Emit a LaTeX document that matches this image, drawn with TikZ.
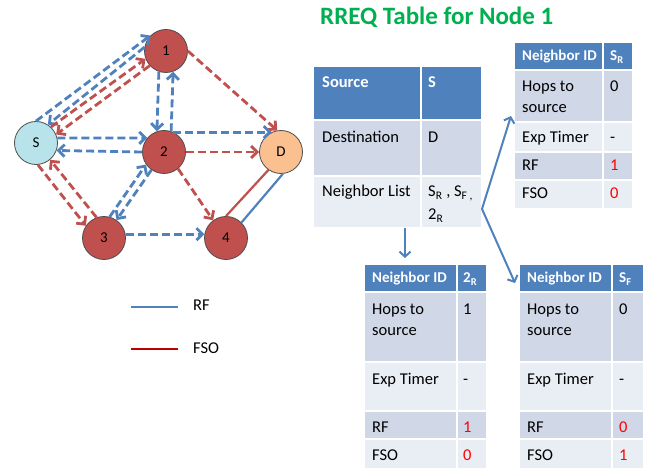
\documentclass[tikz,border=0pt]{standalone}
\usepackage{fontspec}
\setmainfont{Carlito}
\usetikzlibrary{arrows.meta}

\definecolor{rfblue}{HTML}{4F81BD}
\definecolor{fsored}{HTML}{C0504D}
\definecolor{legred}{HTML}{C00000}
\definecolor{rowdark}{HTML}{D0D8E8}
\definecolor{rowlight}{HTML}{E9EDF4}
\definecolor{titlegreen}{HTML}{00B050}
\definecolor{srcfill}{HTML}{B9E3EA}
\definecolor{dstfill}{HTML}{FAC090}
\definecolor{valred}{HTML}{FF0000}

\tikzset{
  hop/.style={circle, draw=black!70, line width=0.8pt, fill=fsored, minimum size=43pt, inner sep=0pt, font=\fontsize{15}{15}\selectfont},
  rfedge/.style={rfblue, line width=2.8pt, dash pattern=on 8pt off 4pt, -{Straight Barb[length=6pt,width=12pt]}},
  fsoedge/.style={fsored, line width=2.8pt, dash pattern=on 8pt off 4pt, -{Straight Barb[length=6pt,width=12pt]}},
  link/.style={line width=2.2pt},
  cellline/.style={white, line width=1.5pt},
  txt/.style={anchor=base west, inner sep=0pt, font=\fontsize{16.5}{21}\selectfont},
  hdr/.style={txt, text=white, font=\bfseries\fontsize{15}{18}\selectfont},
  val/.style={txt, text=valred},
  ptr/.style={rfblue, line width=2pt, -{Straight Barb[length=5pt,width=11pt]}}
}

\begin{document}
\begin{tikzpicture}[x=1pt, y=-1pt]
\useasboundingbox (0,0) rectangle (645,470);

% nodes of the network
\node[hop] (n1) at (166,51) {1};
\node[hop, fill=srcfill] (S) at (36,143) {S};
\node[hop] (n2) at (164,152) {2};
\node[hop, fill=dstfill] (D) at (281,152) {D};
\node[hop] (n3) at (104,238) {3};
\node[hop] (n4) at (226,238) {4};

% RREQ flooding
\draw[rfedge] (S.90) -- (n1.135);
\draw[rfedge] (n1.170) -- (S.57);
\draw[fsoedge] (S.47) -- (n1.201);
\draw[fsoedge] (n1.222) -- (S.23);
\draw[rfedge] (n1.251) -- (n2.109);
\draw[rfedge] (n2.71) -- (n1.289);
\draw[fsoedge] (n1.0) -- (D.100);
\draw[rfedge] (S.13) -- (n2.140);
\draw[rfedge] (n2.180) -- (S.-20);
\draw[rfedge] (n2.65) -- (D.115);
\draw[fsoedge] (n2.0) -- (D.180);
\draw[fsoedge] (n2.-50) -- (n4.126);
\draw[fsoedge] (S.-85) -- (n3.146);
\draw[fsoedge] (n3.110) -- (S.-50);
\draw[rfedge] (n3.75) -- (n2.215);
\draw[rfedge] (n2.235) -- (n3.55);
\draw[rfedge] (n3.10) -- (n4.170);
\draw[link, fsored] (n4.90) -- (D.235);
\draw[link, rfblue] (n4.45) -- (D.275);

% legend
\coordinate (rfa) at (131,307);
\coordinate (rfb) at (178,307);
\coordinate (fsoa) at (131,349);
\coordinate (fsob) at (178,349);
\draw[link, rfblue] (rfa) -- (rfb);
\draw[link, legred] (fsoa) -- (fsob);
\node[txt] (rflab) at (193,310) {RF};
\node[txt] (fsolab) at (193,353) {FSO};

% title
\node[anchor=base west, inner sep=0pt, text=titlegreen, font=\bfseries\fontsize{25}{30}\selectfont] (title) at (320,25) {RREQ Table for Node 1};

% main table
\fill[rfblue] (314,67) rectangle (481,120);
\fill[rowdark] (314,120) rectangle (481,176);
\fill[rowlight] (314,176) rectangle (481,227);
\draw[cellline] (421,67) -- (421,227);
\draw[cellline] (314,120) -- (481,120);
\draw[cellline] (314,176) -- (481,176);
\node[hdr, font=\bfseries\fontsize{16.5}{20}\selectfont] (srcl) at (322,88) {Source};
\node[hdr, font=\bfseries\fontsize{16.5}{20}\selectfont] (srcv) at (428,88) {S};
\node[txt] (dstl) at (322,143) {Destination};
\node[txt] (dstv) at (428,143) {D};
\node[txt] (nbrl) at (322,197) {Neighbor List};
\node[txt] (nbrv) at (428,197) {S\textsubscript{R} , S\textsubscript{F ,}};
\node[txt] (nbrv2) at (428,220) {2\textsubscript{R}};

% neighbor table S_R
\fill[rfblue] (515,43) rectangle (632,70);
\fill[rowdark] (515,70) rectangle (632,122);
\fill[rowlight] (515,122) rectangle (632,152);
\fill[rowdark] (515,152) rectangle (632,180);
\fill[rowlight] (515,180) rectangle (632,208);
\draw[cellline] (603,43) -- (603,208);
\foreach \y in {70,122,152,180} \draw[cellline] (515,\y) -- (632,\y);
\node[hdr] (srh) at (522,61) {Neighbor ID};
\node[hdr] (srhv) at (610,61) {S\textsubscript{R}};
\node[txt] (srhops) at (522,92) {Hops to};
\node[txt] (srsrc) at (522,113) {source};
\node[txt] (srhopsv) at (610,92) {0};
\node[txt] (srexp) at (522,143) {Exp Timer};
\node[txt] (srexpv) at (610,143) {-};
\node[txt] (srrf) at (522,171) {RF};
\node[val] (srrfv) at (610,171) {1};
\node[txt] (srfso) at (522,199) {FSO};
\node[val] (srfsov) at (610,199) {0};

% neighbor table 2_R
\fill[rfblue] (365,265) rectangle (486,292);
\fill[rowdark] (365,292) rectangle (486,362);
\fill[rowlight] (365,362) rectangle (486,411);
\fill[rowdark] (365,411) rectangle (486,439);
\fill[rowlight] (365,439) rectangle (486,468);
\draw[cellline] (457,265) -- (457,468);
\foreach \y in {292,362,411,439} \draw[cellline] (365,\y) -- (486,\y);
\node[hdr] (trh) at (372,283) {Neighbor ID};
\node[hdr] (trhv) at (463,283) {2\textsubscript{R}};
\node[txt] (trhops) at (372,314) {Hops to};
\node[txt] (trsrc) at (372,335) {source};
\node[txt] (trhopsv) at (463,314) {1};
\node[txt] (trexp) at (372,384) {Exp Timer};
\node[txt] (trexpv) at (463,384) {-};
\node[txt] (trrf) at (372,432) {RF};
\node[val] (trrfv) at (463,432) {1};
\node[txt] (trfso) at (372,460) {FSO};
\node[val] (trfsov) at (463,460) {0};

% neighbor table S_F
\fill[rfblue] (520,265) rectangle (643,292);
\fill[rowdark] (520,292) rectangle (643,362);
\fill[rowlight] (520,362) rectangle (643,411);
\fill[rowdark] (520,411) rectangle (643,439);
\fill[rowlight] (520,439) rectangle (643,468);
\draw[cellline] (612,265) -- (612,468);
\foreach \y in {292,362,411,439} \draw[cellline] (520,\y) -- (643,\y);
\node[hdr] (sfh) at (527,283) {Neighbor ID};
\node[hdr] (sfhv) at (619,283) {S\textsubscript{F}};
\node[txt] (sfhops) at (527,314) {Hops to};
\node[txt] (sfsrc) at (527,335) {source};
\node[txt] (sfhopsv) at (619,314) {0};
\node[txt] (sfexp) at (527,384) {Exp Timer};
\node[txt] (sfexpv) at (619,384) {-};
\node[txt] (sfrf) at (527,432) {RF};
\node[val] (sfrfv) at (619,432) {0};
\node[txt] (sffso) at (527,460) {FSO};
\node[val] (sffsov) at (619,460) {1};

% pointers from the neighbor list
\coordinate (nbrdown) at (405,228);
\coordinate (nbrside) at (482,209);
\coordinate (trtop) at (405,258);
\coordinate (srleft) at (511,116);
\coordinate (sfleft) at (515,283);
\draw[ptr] (nbrdown) -- (trtop);
\draw[ptr] (nbrside) -- (srleft);
\draw[ptr] (nbrside) -- (sfleft);
\end{tikzpicture}
\end{document}
